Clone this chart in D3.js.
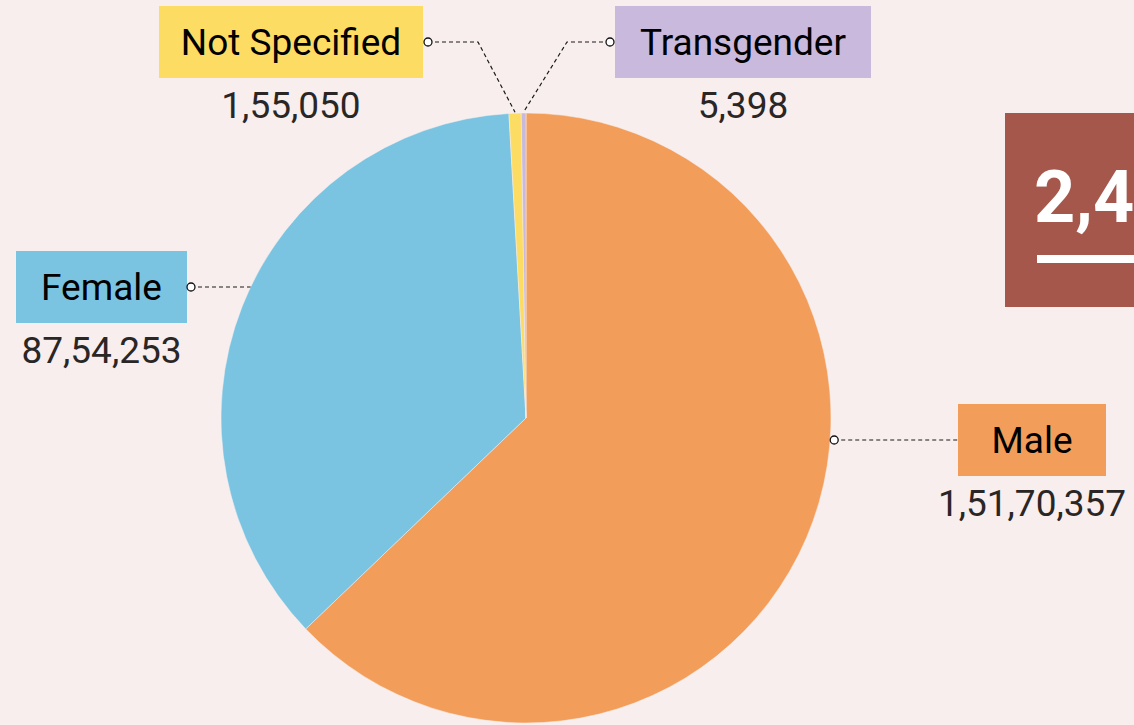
<!DOCTYPE html>
<html>
<head>
<meta charset="utf-8">
<script src="https://cdn.jsdelivr.net/npm/d3@7"></script>
<style>
  body { margin: 0; background: #f8eeee; }
  svg { display: block; font-family: Roboto, sans-serif; }
</style>
</head>
<body>
<div id="chart"></div>
<script>
// data
const categories = ["Male", "Female", "Not Specified", "Transgender"];
const counts = [15170357, 8754253, 155050, 5398];
const colors = ["#f29e5a", "#7ac4e1", "#fddc63", "#c8b9dd"];

// label placement (box centre, connector bend)
const layout = {
  "Male":          { cx: 1032, cy: 440, w: 148, side: "right" },
  "Female":        { cx: 101.5, cy: 287, w: 171, side: "left" },
  "Not Specified": { cx: 291, cy: 42, w: 264, side: "left", bend: 478 },
  "Transgender":   { cx: 743, cy: 42, w: 256, side: "right", bend: 567 }
};

const width = 1134, height = 725;
const cx = 526, cy = 418, radius = 305;

const fmt = n => n.toLocaleString("en-IN");
const total = d3.sum(counts);

const svg = d3.select("#chart").append("svg")
  .attr("width", width)
  .attr("height", height);

svg.append("rect").attr("width", width).attr("height", height).attr("fill", "#f8eeee");

// tiny slices get a minimum visible angle
const pie = d3.pie()
  .sort(null)
  .value(d => Math.max(d.value, total * 0.0025));

const data = categories.map((c, i) => ({ name: c, value: counts[i], color: colors[i] }));
const arcs = pie(data);

const arc = d3.arc().innerRadius(0).outerRadius(radius);

const g = svg.append("g").attr("transform", `translate(${cx},${cy})`);

g.selectAll("path")
  .data(arcs)
  .enter().append("path")
  .attr("d", arc)
  .attr("fill", d => d.data.color)
  .attr("stroke", "#f8eeee")
  .attr("stroke-width", 0.5);

// labels
arcs.forEach(a => {
  const L = layout[a.data.name];
  const mid = (a.startAngle + a.endAngle) / 2;
  const bx = L.side === "left" ? L.cx + L.w / 2 : L.cx - L.w / 2;

  let pts, dot;
  if (L.bend) {
    // small slices: bent line from the box down to the slice
    const px = cx + Math.sin(mid) * (radius + 1);
    const py = cy - Math.cos(mid) * (radius + 1);
    dot = [L.side === "left" ? bx + 5 : bx - 5, L.cy];
    pts = [dot, [L.bend, L.cy], [px, py]];
  } else {
    // straight horizontal line to the pie edge
    const ex = Math.sqrt(radius * radius - (L.cy - cy) * (L.cy - cy));
    if (L.side === "left") {
      dot = [bx + 4, L.cy];
      pts = [dot, [cx - ex, L.cy]];
    } else {
      dot = [cx + ex + 4, L.cy];
      pts = [dot, [bx, L.cy]];
    }
  }
  svg.append("path")
    .attr("d", d3.line()(pts))
    .attr("fill", "none")
    .attr("stroke", "#1a1a1a")
    .attr("stroke-width", 1.2)
    .attr("stroke-dasharray", "4,3");

  // box
  svg.append("rect")
    .attr("x", L.cx - L.w / 2)
    .attr("y", L.cy - 36)
    .attr("width", L.w)
    .attr("height", 72)
    .attr("fill", a.data.color);

  svg.append("text")
    .attr("x", L.cx)
    .attr("y", L.cy + 13)
    .attr("text-anchor", "middle")
    .style("font-size", "37px")
    .style("fill", "#000")
    .text(a.data.name);

  svg.append("text")
    .attr("x", L.cx)
    .attr("y", L.cy + 76)
    .attr("text-anchor", "middle")
    .style("font-size", "37px")
    .style("fill", "#2a2626")
    .text(fmt(a.data.value));

  svg.append("circle")
    .attr("cx", dot[0])
    .attr("cy", dot[1])
    .attr("r", 4)
    .attr("fill", "#fff")
    .attr("stroke", "#111")
    .attr("stroke-width", 1.3);
});

// total box
const tb = svg.append("g");
tb.append("rect")
  .attr("x", 1005).attr("y", 113)
  .attr("width", 460).attr("height", 194)
  .attr("fill", "#a5574c");
tb.append("text")
  .attr("x", 1034).attr("y", 222)
  .style("font-size", "72px")
  .style("font-weight", "bold")
  .style("fill", "#fff")
  .text(fmt(total));
tb.append("rect")
  .attr("x", 1037).attr("y", 255)
  .attr("width", 380).attr("height", 8)
  .attr("fill", "#fff");
</script>
</body>
</html>
